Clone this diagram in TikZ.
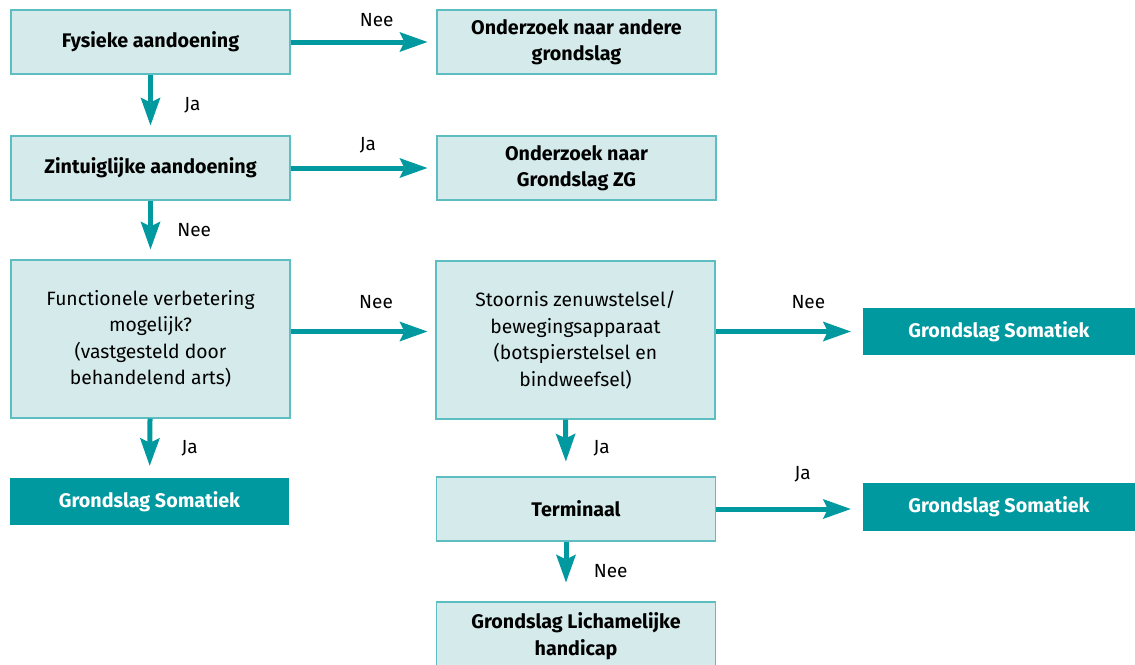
\documentclass[tikz,border=0pt]{standalone}
\usepackage{fontspec}
\setmainfont{Fira Sans}
\usetikzlibrary{arrows.meta}
\definecolor{tealdark}{HTML}{00999F}
\definecolor{teallight}{HTML}{D5EBEB}
\definecolor{tealedge}{HTML}{5DBDC0}

\begin{document}
\begin{tikzpicture}[x=1pt,y=1pt,
  box/.style={draw=tealedge,fill=teallight,line width=1.2pt,minimum width=279pt,
    minimum height=64pt,inner sep=0pt,align=center,font=\fontsize{19.7}{26.5}\selectfont\bfseries},
  tall/.style={box,minimum height=158pt,font=\fontsize{19.3}{26.5}\selectfont},
  result/.style={fill=tealdark,text=white,minimum width=279pt,minimum height=48pt,
    inner sep=0pt,font=\fontsize{19.7}{26.5}\selectfont\bfseries},
  arr/.style={draw=tealdark,line width=5pt,
    -{Stealth[length=28pt,width=20pt,inset=5pt,line width=0pt,fill=tealdark]}},
  lbl/.style={font=\fontsize{19}{24}\selectfont}]
  \useasboundingbox (0,0) rectangle (1135,-664);
  \node[box] (fys)   at (150.5,-42)  {Fysieke aandoening};
  \node[box] (ond1)  at (576.5,-42)  {Onderzoek naar andere\\grondslag};
  \node[box] (zin)   at (150.5,-168) {Zintuiglijke aandoening};
  \node[box] (ond2)  at (576.5,-168) {Onderzoek naar\\Grondslag ZG};
  \node[tall] (func)  at (150.5,-339) {Functionele verbetering\\mogelijk?\\(vastgesteld door\\behandelend arts)};
  \node[tall] (stoor) at (575.5,-340) {Stoornis zenuwstelsel/\\bewegingsapparaat\\(botspierstelsel en\\bindweefsel)};
  \node[result,minimum width=272pt,minimum height=47pt] (som1) at (999,-331.5) {Grondslag Somatiek};
  \node[result,minimum height=47pt] (som0) at (149.5,-501.5) {Grondslag Somatiek};
  \node[box] (term)  at (576,-509) {Terminaal};
  \node[result,minimum width=272pt] (som2) at (999,-507) {Grondslag Somatiek};
  \node[box,minimum height=68pt] (lich)  at (576,-636) {Grondslag Lichamelijke\\handicap};
  % connectors
  \draw[arr,shorten >=9pt] (fys) -- node[lbl,above=9pt,pos=.59] {Nee} (ond1);
  \draw[arr,shorten >=10pt] (fys) -- node[lbl,right=28pt] {Ja} (zin);
  \draw[arr,shorten >=9pt] (zin) -- node[lbl,above=9pt,pos=.53] {Ja} (ond2);
  \draw[arr,shorten >=10pt] (zin) -- node[lbl,right=21pt] {Nee} (func);
  \draw[arr,shorten >=8pt] (func.east |- som1) -- node[lbl,above=17pt,pos=.59] {Nee} (stoor.west |- som1);
  \draw[arr,shorten >=12pt] (func) -- node[lbl,right=26pt] {Ja} (som0);
  \draw[arr,shorten >=12pt] (stoor.east |- som1) -- node[lbl,above=17pt,pos=.63] {Nee} (som1);
  \draw[arr,shorten >=15pt] ([xshift=-10pt]stoor.south) -- node[lbl,right=22pt] {Ja} ([xshift=-10pt]term.north);
  \draw[arr,shorten >=12pt] (term) -- node[lbl,above=21pt,pos=.59] {Ja} (term.east -| som2.west);
  \draw[arr,shorten >=19pt] ([xshift=-10pt]term.south) -- node[lbl,right=22pt] {Nee} ([xshift=-10pt]lich.north);
\end{tikzpicture}
\end{document}
